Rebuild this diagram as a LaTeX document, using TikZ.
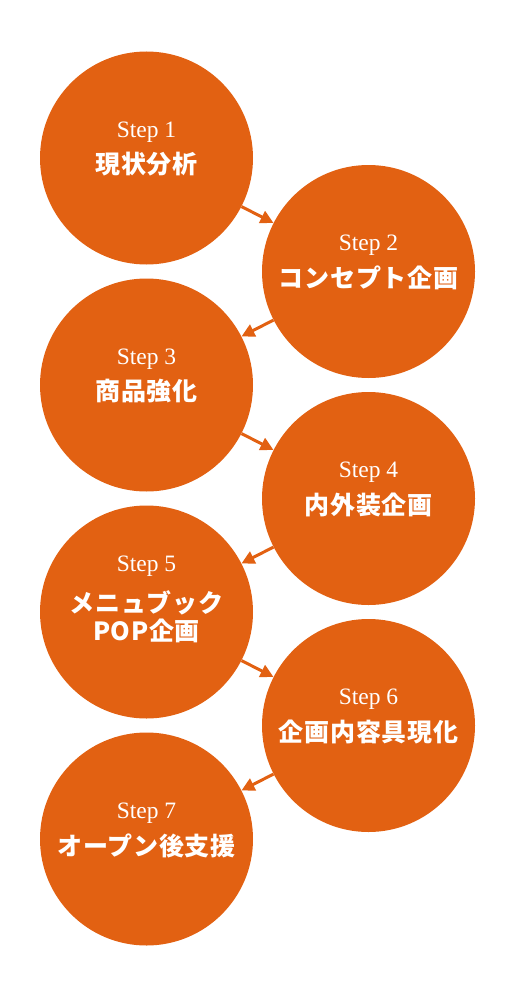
\documentclass[tikz,border=0pt]{standalone}
\usepackage{fontspec}
\newfontfamily\jp{Noto Sans CJK JP}[LetterSpace=3]
\newfontfamily\stepfont{Liberation Serif}
\usetikzlibrary{arrows.meta}
\definecolor{org}{HTML}{E26112}
\begin{document}
\begin{tikzpicture}[x=1pt,y=-1pt,
  stepcircle/.style={circle, fill=org, minimum size=213pt, inner sep=0pt},
  steplabel/.style={text=white, font=\stepfont\fontsize{23.5}{23.5}\selectfont, anchor=base},
  titlelabel/.style={text=white, font=\jp\bfseries\fontsize{25}{27.5}\selectfont, align=center, inner sep=0pt},
  conn/.style={draw=org, line width=3pt, -{Triangle[length=13pt,width=13pt]}}]
\useasboundingbox (0,0) rectangle (515,998);
\node[stepcircle] (c1) at (146.5,158) {};
\node[stepcircle] (c2) at (368.5,271.5) {};
\node[stepcircle] (c3) at (146.5,385) {};
\node[stepcircle] (c4) at (368.5,498.5) {};
\node[stepcircle] (c5) at (146.5,612) {};
\node[stepcircle] (c6) at (368.5,725.5) {};
\node[stepcircle] (c7) at (146.5,839) {};
\node[steplabel] (s1) at (146.5,137) {Step 1};
\node[titlelabel] (t1) at (146.5,164) {現状分析};
\node[steplabel] (s2) at (368.5,250.5) {Step 2};
\node[titlelabel] (t2) at (368.5,278) {コンセプト企画};
\node[steplabel] (s3) at (146.5,364) {Step 3};
\node[titlelabel] (t3) at (146.5,391) {商品強化};
\node[steplabel] (s4) at (368.5,477.5) {Step 4};
\node[titlelabel] (t4) at (368.5,505) {内外装企画};
\node[steplabel] (s5) at (146.5,571) {Step 5};
\node[titlelabel] (t5) at (146.5,616.5) {メニュブック\\POP企画};
\node[steplabel] (s6) at (368.5,704.5) {Step 6};
\node[titlelabel] (t6) at (368.5,732) {企画内容具現化};
\node[steplabel] (s7) at (146.5,818) {Step 7};
\node[titlelabel] (t7) at (146.5,846) {オープン後支援};
\draw[conn] (c1) -- (c2);
\draw[conn] (c2) -- (c3);
\draw[conn] (c3) -- (c4);
\draw[conn] (c4) -- (c5);
\draw[conn] (c5) -- (c6);
\draw[conn] (c6) -- (c7);
\end{tikzpicture}
\end{document}
